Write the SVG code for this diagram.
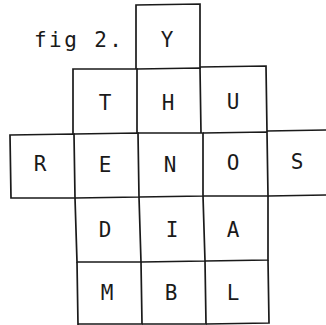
<svg xmlns="http://www.w3.org/2000/svg" width="326" height="325" viewBox="0 0 326 325">
<style>
.c{fill:none;stroke:#1a1a1a;stroke-width:1.7}
.t{font-family:"DejaVu Sans Mono","Liberation Mono",monospace;font-size:21px;fill:#1a1a1a;text-anchor:middle;dominant-baseline:central}
</style>
<rect width="326" height="325" fill="#fff"/>
<text x="34" y="40" class="t" style="text-anchor:start" textLength="88">fig 2.</text>
<g id="cell-Y"><path class="c" d="M136 69 L136 5 L200 4 L200 69"/><text class="t" x="167" y="40">Y</text></g>
<g id="cell-T"><path class="c" d="M73 134 L73 69 L137 69 L137 134"/><text class="t" x="105" y="103">T</text></g>
<g id="cell-H"><path class="c" d="M137 69 L200 68 L201 133"/><text class="t" x="168" y="103">H</text></g>
<g id="cell-U"><path class="c" d="M200 67 L266 66 L267 132"/><text class="t" x="233" y="102">U</text></g>
<g id="cell-R"><path class="c" d="M10 135 L74 134 L75 198 L11 198 Z"/><text class="t" x="40" y="164">R</text></g>
<g id="cell-E"><path class="c" d="M74 134 L138 133 L139 197 L75 198"/><text class="t" x="105" y="165">E</text></g>
<g id="cell-N"><path class="c" d="M138 133 L203 133 L203 196 L139 197"/><text class="t" x="170" y="165">N</text></g>
<g id="cell-O"><path class="c" d="M203 133 L267 132 L268 196 L203 196"/><text class="t" x="233" y="163">O</text></g>
<g id="cell-S"><path class="c" d="M267 131 L326 130 M268 196 L326 195"/><text class="t" x="297" y="162">S</text></g>
<g id="cell-D"><path class="c" d="M75 198 L77 262 L141 262 L139 197"/><text class="t" x="105" y="230">D</text></g>
<g id="cell-I"><path class="c" d="M141 262 L205 261 L203 196"/><text class="t" x="172" y="230">I</text></g>
<g id="cell-A"><path class="c" d="M205 261 L268 260 L268 196"/><text class="t" x="233" y="230">A</text></g>
<g id="cell-M"><path class="c" d="M77 262 L78 325 M78 324 L142 324 L141 262"/><text class="t" x="107" y="293">M</text></g>
<g id="cell-B"><path class="c" d="M142 324 L206 324 L205 261"/><text class="t" x="171" y="293">B</text></g>
<g id="cell-L"><path class="c" d="M206 324 L269 323 L268 260"/><text class="t" x="233" y="293">L</text></g>
</svg>
